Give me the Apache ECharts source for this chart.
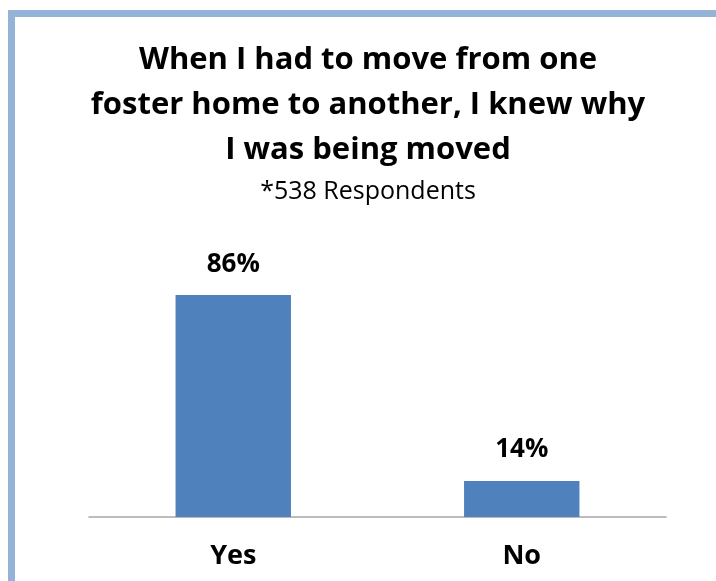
<!DOCTYPE html>
<html>
<head>
<meta charset="utf-8">
<script src="https://cdn.jsdelivr.net/npm/echarts@6/dist/echarts.min.js"></script>
<style>
  html, body { margin: 0; padding: 0; background: #fff; }
  #chart { width: 716px; height: 581px; }
</style>
</head>
<body>
<div id="chart"></div>
<script>
// 数据
const categories = ['Yes', 'No'];
const values = [86, 14];
const titleLines = ['When I had to move from one', 'foster home to another, I knew why', 'I was being moved'];
const subtitle = '*538 Respondents';

let myChart = echarts.init(document.getElementById('chart'));
myChart.setOption({
  backgroundColor: '#ffffff',
  animation: false,
  title: {
    text: titleLines.join('\n'),
    subtext: subtitle,
    left: 368,
    textAlign: 'center',
    top: 38,
    padding: 0,
    itemGap: 4,
    textStyle: {
      fontFamily: 'Open Sans',
      fontWeight: 'bold',
      fontSize: 31,
      lineHeight: 45,
      color: '#000'
    },
    subtextStyle: {
      fontFamily: 'Open Sans',
      fontSize: 25,
      lineHeight: 30,
      color: '#000'
    }
  },
  // 边框（左、上）
  graphic: [
    { type: 'rect', shape: { x: 8, y: 10, width: 708, height: 7 }, style: { fill: '#95B3D7' } },
    { type: 'rect', shape: { x: 8, y: 10, width: 7, height: 571 }, style: { fill: '#95B3D7' } }
  ],
  grid: { left: 89, right: 50, top: 259, bottom: 64 },
  xAxis: {
    type: 'category',
    data: categories,
    axisLine: { lineStyle: { color: '#a6a6a6', width: 1.5 } },
    axisTick: { show: false },
    axisLabel: {
      margin: 26,
      fontFamily: 'Open Sans',
      fontWeight: 'bold',
      fontSize: 27,
      color: '#000'
    }
  },
  yAxis: {
    type: 'value',
    min: 0,
    max: 100,
    show: false
  },
  series: [
    {
      type: 'bar',
      data: values,
      barWidth: '40%',
      itemStyle: { color: '#4F81BD' },
      label: {
        show: true,
        position: 'top',
        distance: 18,
        formatter: '{c}%',
        fontFamily: 'Open Sans',
        fontWeight: 'bold',
        fontSize: 26,
        color: '#000'
      }
    }
  ]
});
</script>
</body>
</html>
